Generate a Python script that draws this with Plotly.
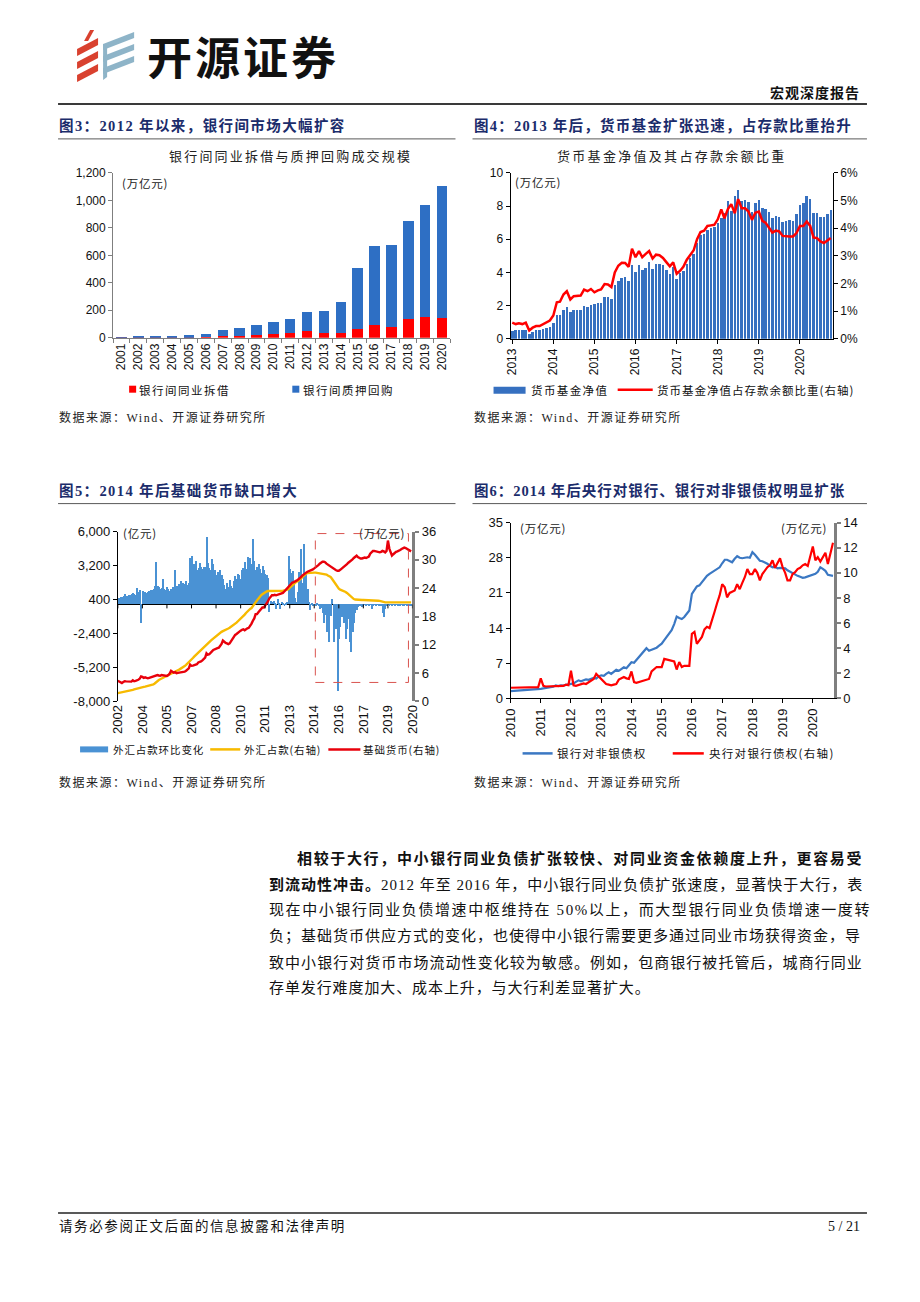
import plotly.graph_objects as go
import pandas as pd

# ---------------- page geometry helpers (page px -> paper) ----------------
W, H = 888, 1270
SX, CX, SY, CY = 0.982, 16.0, 0.989, 14.0
def X(p): return ((p - CX) / SX) / W
def Y(p): return 1 - ((p - CY) / SY) / H

CJK = "Noto Sans CJK SC"
NUM = "Liberation Sans, Arial, sans-serif"
MIX = "Liberation Serif, Noto Sans CJK SC"
NAVY = "#1B2C6B"
RED = "#FF0000"
BLUE3 = "#2E6FC4"
BLUE4 = "#3670C0"
BLUE5 = "#4A92D4"
YELLOW = "#F7BA00"
BLUE6 = "#3B78C3"

# ---------------- data ----------------
# Fig 3: interbank lending & pledged repo turnover (万亿元)
c3_years = [str(y) for y in range(2001, 2021)]
c3_lending = [0.8, 1.2, 2.4, 1.5, 1.3, 2.2, 10.7, 15.0, 19.4, 27.9, 33.4, 46.7, 35.5, 37.7, 64.2, 95.9, 79.0, 139.3, 151.6, 147.1]
c3_repo = [4, 10, 12, 10, 17, 27, 46, 59, 72, 88, 100, 143, 158, 220, 440, 572, 593, 712, 818, 958]

# Fig 4: money market fund NAV (万亿元) and share of deposits (%)
c4_months = pd.date_range("2013-01-01", periods=94, freq="MS")
c4_fund = [
    0.48, 0.52, 0.52, 0.54, 0.54, 0.30, 0.42, 0.50, 0.50, 0.56, 0.62, 0.72,
    0.96, 1.42, 1.44, 1.72, 1.90, 1.60, 1.74, 1.74, 1.76, 2.00, 1.94, 2.02,
    2.08, 2.16, 2.16, 2.50, 2.52, 2.40, 3.22, 3.46, 3.64, 3.72, 3.46, 4.42,
    4.04, 4.44, 4.14, 4.26, 4.60, 4.20, 4.52, 4.52, 4.42, 4.16, 3.92, 4.30,
    3.60, 3.95, 4.10, 4.50, 4.85, 5.10, 5.80, 6.25, 6.30, 6.55, 6.70, 6.75,
    6.95, 7.25, 7.60, 8.30, 7.70, 8.62, 8.96, 8.30, 8.36, 8.26, 7.66, 8.16,
    8.36, 7.86, 7.80, 7.66, 7.26, 7.40, 7.32, 7.06, 7.10, 7.16, 7.12, 7.50,
    8.06, 8.20, 8.62, 8.44, 7.56, 7.60, 7.36, 7.32, 7.50, 7.76]
c4_ratio = [
    0.58, 0.53, 0.56, 0.53, 0.58, 0.30, 0.40, 0.46, 0.46, 0.52, 0.58, 0.66,
    0.84, 1.32, 1.34, 1.60, 1.72, 1.42, 1.54, 1.56, 1.56, 1.78, 1.72, 1.80,
    1.68, 1.75, 1.78, 1.98, 1.96, 1.87, 2.40, 2.64, 2.75, 2.74, 2.60, 3.26,
    2.95, 3.17, 2.95, 3.07, 3.17, 2.90, 3.04, 3.02, 2.92, 2.77, 2.62, 2.76,
    2.35, 2.46, 2.60, 2.86, 3.04, 3.20, 3.60, 3.86, 3.91, 4.08, 4.10, 4.12,
    4.32, 4.68, 4.36, 4.69, 4.87, 4.54, 5.05, 4.72, 4.72, 4.60, 4.30, 4.56,
    4.60, 4.26, 4.20, 4.00, 3.84, 3.91, 3.88, 3.72, 3.70, 3.70, 3.70, 3.82,
    4.08, 4.08, 4.24, 4.08, 3.66, 3.64, 3.52, 3.46, 3.55, 3.64]

# Fig 5: FX funds m/m change (亿元), FX funds & base money (万亿元)
c5_months = pd.date_range("2002-07-01", periods=216, freq="MS")
c5_fx_change = [
    450, 520, 600, 640, 700, 820,
    650, 720, 800, 760, 850, 900, 820, 780, 1350, 1000, 1200, -1550,
    1100, 950, 1050, 900, 1000, 1100, 1150, 1200, 1300, 1550, 3470, 1500,
    1400, 1250, 1350, 2100, 1300, 1200, 1450, 1300, 1100, 1250, 1400, 1350,
    2870, 1500, 1400, 1650, 1950, 1550, 1800, 1700, 1900, 1600, 1800, 3850,
    3950, 2900, 3300, 3600, 2800, 3000, 3400, 3050, 2900, 3100, 3050, 5590,
    3400, 3000, 2850, 3750, 3300, 2800, 2400, 2650, 2000, 2800, 2400, 2100,
    1600, 1300, 1800, 1400, 2000, 1500, 1350, 1900, 2300, 2100, 2500, 2400,
    2050, 2800, 3000, 3500, 2900, 3900, 3200, 3800, 3300, 5400, 3600, 2800,
    3100, 3300, 2900, 2600, 3200, 2800, 2500, 2400, 2200, -640, 300, 200,
    300, 150, -390, 430, 100, -400, 200, 150, -80, 120, 200, 4000,
    2900, 2600, 2750, 1800, 500, 200, 1000, 2700, 4550, 1800, 4960, 1500,
    2600, 1250, 200, -450, 100, -100, 50, -150, 100, -100, -400, -300,
    -670, -1500, -900, -2300, -1200, -3100, -940, 430, -3140, -1700, -2000, -7120,
    -2860, -1900, -1080, -600, -1500, -2860, -2040, -1200, -3140, -3960, -2300, -1500,
    -700, -500, -250, -150, -100, -200, -120, 50, -80, 30, -50, 40,
    -400, -60, 20, -30, 60, -40, 30, -100, -670, -1080, -400, -150,
    50, -30, 40, -20, 30, -50, 20, -40, 60, -30, 20, -20,
    -100, 40, -150, -80, 30, -50]
c5_fx_stock = [
    1.77, 1.82, 1.87, 1.93, 1.98, 2.05,
    2.10, 2.15, 2.20, 2.27, 2.35, 2.45, 2.55, 2.65, 2.72, 2.80, 2.90, 2.97,
    3.05, 3.10, 3.15, 3.20, 3.25, 3.32, 3.40, 3.46, 3.60, 3.80, 4.10, 4.40,
    4.55, 4.70, 4.85, 4.95, 5.05, 5.20, 5.35, 5.50, 5.65, 5.85, 6.00, 6.15,
    6.30, 6.45, 6.60, 6.75, 6.90, 7.10, 7.30, 7.50, 7.75, 8.00, 8.30, 8.60,
    8.97, 9.20, 9.50, 9.80, 10.10, 10.40, 10.70, 10.90, 11.20, 11.50, 11.80, 12.10,
    12.40, 12.60, 12.85, 13.10, 13.35, 13.60, 13.85, 14.10, 14.35, 14.60, 14.75, 14.90,
    15.00, 15.15, 15.30, 15.45, 15.60, 15.80, 16.00, 16.20, 16.45, 16.70, 17.00, 17.25,
    17.50, 17.80, 18.10, 18.40, 18.75, 19.10, 19.40, 19.60, 19.80, 20.30, 20.70, 21.00,
    21.40, 21.80, 22.20, 22.50, 22.70, 22.95, 23.15, 23.30, 23.40, 23.40, 23.35, 23.30,
    23.35, 23.40, 23.40, 23.45, 23.40, 23.40, 23.40, 23.45, 23.50, 23.60, 23.70, 23.80,
    24.10, 24.40, 24.70, 24.90, 25.20, 25.40, 25.50, 25.70, 26.00, 26.30, 26.60, 26.90,
    27.10, 27.20, 27.25, 27.30, 27.30, 27.30, 27.30, 27.30, 27.25, 27.25, 27.20, 27.20,
    27.20, 27.10, 27.00, 26.90, 26.70, 26.60, 26.40, 26.00, 25.60, 25.20, 24.80, 24.20,
    23.90, 23.70, 23.60, 23.50, 23.40, 23.20, 23.00, 22.70, 22.50, 22.20, 21.90, 21.70,
    21.60, 21.55, 21.50, 21.50, 21.50, 21.50, 21.50, 21.50, 21.50, 21.50, 21.50, 21.50,
    21.50, 21.50, 21.50, 21.45, 21.40, 21.35, 21.30, 21.20, 21.10, 21.00, 21.00, 21.00,
    21.00, 21.00, 21.00, 21.00, 21.00, 21.00, 21.00, 21.00, 21.00, 21.00, 21.00, 21.00,
    21.00, 21.00, 21.00, 21.00, 21.00, 21.00]
c5_base_money = [
    4.40, 4.20, 4.00, 3.90, 4.10, 4.30,
    4.25, 4.20, 4.20, 4.15, 4.20, 4.50, 4.30, 4.35, 4.40, 4.60, 4.80, 5.30,
    5.20, 5.00, 5.10, 4.95, 4.90, 5.00, 5.10, 5.20, 5.15, 5.35, 5.40, 5.60,
    5.50, 5.45, 5.60, 5.55, 5.50, 5.45, 5.40, 5.60, 5.90, 6.50, 6.30, 6.10,
    6.20, 6.00, 6.05, 6.10, 6.15, 6.10, 6.20, 6.30, 6.50, 6.70, 7.00, 7.80,
    7.55, 7.60, 7.70, 7.80, 7.90, 8.25, 8.30, 8.50, 8.70, 8.97, 9.30, 10.20,
    9.90, 10.00, 10.20, 10.60, 10.90, 11.10, 11.20, 11.30, 11.40, 11.80, 12.20, 12.90,
    12.60, 12.40, 12.30, 12.15, 12.30, 12.80, 13.30, 13.90, 14.10, 14.30, 14.60, 14.80,
    15.00, 15.20, 15.30, 15.10, 15.40, 15.50, 15.60, 16.00, 16.50, 17.10, 17.60, 18.50,
    18.50, 18.90, 19.30, 19.60, 19.90, 19.90, 20.30, 20.60, 21.20, 21.80, 22.20, 22.50,
    22.50, 22.60, 22.50, 22.60, 22.70, 22.70, 22.80, 23.00, 23.30, 23.60, 24.10, 24.30,
    24.60, 25.00, 25.20, 25.30, 25.40, 25.60, 25.80, 26.00, 26.30, 26.60, 26.90, 27.10,
    27.30, 27.50, 27.60, 27.70, 27.90, 28.00, 28.20, 28.40, 28.60, 28.90, 29.20, 29.50,
    29.60, 29.60, 29.50, 29.20, 29.00, 28.70, 28.50, 28.40, 28.20, 28.00, 27.80, 27.70,
    27.70, 27.90, 28.10, 28.40, 28.70, 28.90, 29.10, 29.40, 29.60, 29.80, 30.10, 30.40,
    30.70, 30.90, 30.60, 30.40, 30.30, 30.30, 30.40, 30.50, 30.40, 30.50, 30.70, 31.30,
    31.60, 31.90, 31.90, 31.80, 31.70, 31.70, 31.60, 31.70, 31.90, 31.80, 31.60, 31.90,
    34.10, 32.40, 31.50, 30.90, 31.20, 31.50, 31.70, 31.80, 31.90, 32.10, 32.30, 32.50,
    32.60, 32.50, 32.30, 32.10, 31.90, 31.80]
c5_tick_dates = pd.date_range("2002-07-01", periods=13, freq="18MS")
c5_tick_labels = [str(d.year) for d in c5_tick_dates]
c5_left_ticks = [-8000, -5200, -2400, 400, 3200, 6000]
c5_left_labels = ["-8,000", "-5,200", "-2,400", "400", "3,200", "6,000"]

# Fig 6: bank claims on non-banks (万亿元), PBoC claims on banks (万亿元, right)
c6_months = pd.date_range("2010-01-01", periods=129, freq="MS")
c6_bank_nonbank = [
    1.45, 1.48, 1.50, 1.52, 1.55, 1.60, 1.65, 1.70, 1.72, 1.78, 1.85, 1.90,
    1.92, 2.00, 2.05, 2.10, 2.20, 2.35, 2.60, 2.45, 2.60, 2.55, 2.70, 2.75,
    2.90, 3.00, 3.30, 3.60, 3.40, 3.55, 3.80, 3.70, 3.95, 4.10, 3.95, 4.40,
    4.60, 4.50, 4.90, 5.20, 4.90, 5.30, 5.70, 5.50, 5.90, 6.20, 6.00, 6.50,
    7.20, 7.10, 7.60, 8.20, 8.80, 9.30, 10.00, 9.50, 9.70, 9.90, 10.10, 10.50,
    10.90, 11.60, 12.20, 12.80, 13.60, 14.80, 16.30, 16.00, 15.80, 16.20, 16.80, 17.50,
    20.80, 21.50, 22.30, 22.50, 23.20, 23.90, 24.40, 24.80, 25.10, 25.50, 25.80, 26.10,
    26.90, 27.60, 27.60, 27.30, 27.10, 27.80, 28.30, 28.00, 27.90, 28.00, 28.10, 28.00,
    29.10, 28.60, 28.00, 27.40, 27.30, 27.10, 26.80, 26.40, 26.10, 26.20, 25.90, 26.00,
    26.00, 25.90, 25.50, 25.20, 24.90, 24.60, 24.40, 24.20, 24.00, 24.10, 24.30, 24.40,
    24.60, 24.80, 25.20, 26.10, 25.80, 25.40, 24.60, 24.50, 24.40]
c6_pboc_bank = [
    0.85, 0.85, 0.86, 0.86, 0.87, 0.87, 0.88, 0.88, 0.89, 0.89, 0.90, 0.90,
    1.60, 1.00, 0.95, 0.95, 0.95, 0.97, 0.98, 1.00, 0.98, 1.00, 1.10, 1.05,
    2.20, 1.05, 1.00, 1.05, 1.10, 1.20, 1.15, 1.30, 1.40, 1.55, 1.95, 1.75,
    1.55, 1.30, 1.15, 1.10, 1.05, 1.10, 1.15, 1.50, 1.60, 1.70, 1.60, 1.55,
    2.15, 1.30, 1.25, 1.30, 1.35, 1.45, 1.50, 1.55, 2.15, 2.30, 2.50, 2.50,
    2.50, 3.15, 3.10, 3.05, 3.02, 2.95, 2.30, 2.90, 2.50, 2.60, 2.60, 2.60,
    5.15, 5.30, 4.35, 4.60, 4.90, 5.50, 5.70, 5.60, 6.20, 6.90, 7.60, 8.20,
    9.10, 8.85, 8.05, 8.40, 8.50, 8.60, 9.10, 8.70, 9.20, 9.65, 10.30, 9.90,
    9.90, 10.30, 10.00, 9.40, 9.90, 10.20, 10.45, 10.60, 11.00, 10.40, 10.80, 11.15,
    10.45, 10.00, 9.40, 9.40, 9.90, 10.05, 10.30, 10.40, 10.60, 10.70, 10.55, 11.25,
    12.10, 11.00, 11.25, 10.90, 11.30, 11.60, 10.70, 11.50, 12.40]

assert len(c3_lending) == len(c3_repo) == len(c3_years)
assert len(c4_fund) == len(c4_ratio) == len(c4_months)
assert len(c5_fx_change) == len(c5_fx_stock) == len(c5_base_money) == len(c5_months)
assert len(c6_bank_nonbank) == len(c6_pboc_bank) == len(c6_months)

MONTH_MS = 30.44 * 86400000

# ---------------- traces ----------------
fig = go.Figure()
fig.add_trace(go.Bar(x=c3_years, y=c3_lending, name="银行间同业拆借", width=0.62,
                     marker=dict(color=RED, line_width=0), xaxis="x", yaxis="y", showlegend=False))
fig.add_trace(go.Bar(x=c3_years, y=c3_repo, name="银行间质押回购", width=0.62,
                     marker=dict(color=BLUE3, line_width=0), xaxis="x", yaxis="y", showlegend=False))

fig.add_trace(go.Bar(x=c4_months, y=c4_fund, name="货币基金净值", width=0.74 * MONTH_MS,
                     marker=dict(color=BLUE4, line_width=0), xaxis="x2", yaxis="y2", showlegend=False))
fig.add_trace(go.Scatter(x=c4_months, y=c4_ratio, name="货币基金净值占存款余额比重(右轴)", mode="lines",
                         line=dict(color=RED, width=2.5), xaxis="x2", yaxis="y3", showlegend=False))

fig.add_trace(go.Bar(x=c5_months, y=c5_fx_change, name="外汇占款环比变化", width=0.7 * MONTH_MS,
                     marker=dict(color=BLUE5, line_width=0), xaxis="x3", yaxis="y4", showlegend=False))
fig.add_trace(go.Scatter(x=c5_months, y=c5_fx_stock, name="外汇占款(右轴)", mode="lines",
                         line=dict(color=YELLOW, width=2.4), xaxis="x3", yaxis="y5", showlegend=False))
fig.add_trace(go.Scatter(x=c5_months, y=c5_base_money, name="基础货币(右轴)", mode="lines",
                         line=dict(color="#E8000B", width=2.4), xaxis="x3", yaxis="y5", showlegend=False))

fig.add_trace(go.Scatter(x=c6_months, y=c6_bank_nonbank, name="银行对非银债权", mode="lines",
                         line=dict(color=BLUE6, width=2.2), xaxis="x4", yaxis="y6", showlegend=False))
fig.add_trace(go.Scatter(x=c6_months, y=c6_pboc_bank, name="央行对银行债权(右轴)", mode="lines",
                         line=dict(color=RED, width=2.2), xaxis="x4", yaxis="y7", showlegend=False))

# ---------------- annotations & shapes ----------------
anns, shapes = [], []

def ann(x, y, text, size=12, color="#111", xanchor="left", family=CJK, ls=0, yanchor="middle"):
    if ls:
        text = f'<span style="letter-spacing:{ls}px">{text}</span>'
    anns.append(dict(x=X(x), y=Y(y), xref="paper", yref="paper", text=text, showarrow=False,
                     xanchor=xanchor, yanchor=yanchor, borderpad=0,
                     font=dict(size=size, color=color, family=family)))

def hline(x0, x1, y, color, width, dash="solid"):
    shapes.append(dict(type="line", xref="paper", yref="paper", x0=X(x0), x1=X(x1),
                       y0=Y(y), y1=Y(y), line=dict(color=color, width=width, dash=dash)))

def rect(x0, y0, x1, y1, color):
    shapes.append(dict(type="rect", xref="paper", yref="paper", x0=X(x0), x1=X(x1),
                       y0=Y(y1), y1=Y(y0), fillcolor=color, line=dict(width=0)))

def poly(points, color):
    d = "M " + " L ".join(f"{X(a):.5f},{Y(b):.5f}" for a, b in points) + " Z"
    shapes.append(dict(type="path", xref="paper", yref="paper", path=d,
                       fillcolor=color, line=dict(width=0)))

# logo
for k in range(3):
    poly([(77, 48 + 13 * k), (98, 37 + 13 * k), (98, 44 + 13 * k), (77, 55 + 13 * k)], "#D9412F")
poly([(84, 40), (90, 29), (94, 29), (88, 40)], "#D9412F")
for k in range(3):
    poly([(103, 43 + 12 * k), (134, 31 + 12 * k), (134, 37 + 12 * k), (103, 49 + 12 * k)], "#8EB4C8")
poly([(103, 43), (107, 43), (107, 76), (103, 79)], "#8EB4C8")
ann(146, 55, "<b>开源证券</b>", 45, "#111", ls=3)

# header
ann(860, 92, "<b>宏观深度报告</b>", 14, "#111", "right", MIX, ls=1)
hline(58, 866, 103, "#3a3a3a", 2)

# figure titles
ann(58, 125, "<b>图3：2012 年以来，银行间市场大幅扩容</b>", 14.5, NAVY, family=MIX, ls=1.4)
ann(472, 125, "<b>图4：2013 年后，货币基金扩张迅速，占存款比重抬升</b>", 14.5, NAVY, family=MIX, ls=1.25)
ann(58, 490, "<b>图5：2014 年后基础货币缺口增大</b>", 14.5, NAVY, family=MIX, ls=1.4)
ann(472, 490, "<b>图6：2014 年后央行对银行、银行对非银债权明显扩张</b>", 14.5, NAVY, family=MIX, ls=1.0)
for y in (138, 503):
    hline(58, 455, y, "#595959", 1)
    hline(472, 866, y, "#595959", 1)

# chart sub-titles
ann(290, 155, "银行间同业拆借与质押回购成交规模", 13, "#222", "center", ls=2.2)
ann(671, 155, "货币基金净值及其占存款余额比重", 13, "#222", "center", ls=2.3)

# units
ann(121, 182, "(万亿元)", 11.5, "#222", ls=0.8)
ann(513, 181, "(万亿元)", 11.5, "#222", ls=0.8)
ann(122, 532, "(亿元)", 11.5, "#222", ls=0.8)
ann(406, 532, "(万亿元)", 11.5, "#222", "right", ls=0.8)
ann(518, 527, "(万亿元)", 11.5, "#222", ls=0.8)
ann(827, 527, "(万亿元)", 11.5, "#222", "right", ls=0.8)

# legends (drawn)
rect(129, 385, 136, 392, RED)
ann(138, 389, "银行间同业拆借", 11.5, "#111", ls=1.5)
rect(292, 385, 299, 392, BLUE3)
ann(302, 389, "银行间质押回购", 11.5, "#111", ls=1.5)

rect(493, 386, 525, 393, BLUE4)
ann(529, 389, "货币基金净值", 11.5, "#111", ls=1.4)
hline(617, 652, 389, RED, 2.5)
ann(655, 389, "货币基金净值占存款余额比重(右轴)", 11.5, "#111", ls=1.0)

rect(80, 746, 108, 752, BLUE5)
ann(112, 749, "外汇占款环比变化", 10.5, "#111", ls=0.9)
hline(210, 240, 749, YELLOW, 2.5)
ann(243, 749, "外汇占款(右轴)", 10.5, "#111", ls=0.9)
hline(328, 360, 749, "#E8000B", 2.5)
ann(362, 749, "基础货币(右轴)", 10.5, "#111", ls=0.9)

hline(522, 552, 753, BLUE6, 2.5)
ann(555, 753, "银行对非银债权", 11.5, "#111", ls=1.3)
hline(672, 703, 753, RED, 2.5)
ann(707, 753, "央行对银行债权(右轴)", 11.5, "#111", ls=1.3)

# dashed highlight box in fig 5
shapes.append(dict(type="rect", xref="paper", yref="paper", x0=X(315), x1=X(408),
                   y0=Y(682), y1=Y(533), line=dict(color="#D9534F", width=1, dash="dash"),
                   fillcolor="rgba(0,0,0,0)"))

# tick marks on the zero line of fig 5
for d in c5_tick_dates:
    shapes.append(dict(type="line", xref="x3", yref="y4", x0=d, x1=d, y0=0, y1=-330,
                       line=dict(color="#000", width=1)))

# sources
for y in (417, 782):
    ann(58, y, "数据来源：Wind、开源证券研究所", 12, "#222", family=MIX, ls=1.5)
    ann(472, y, "数据来源：Wind、开源证券研究所", 12, "#222", family=MIX, ls=1.5)

# body text
body = [
    (296, 858, "<b>相较于大行，中小银行同业负债扩张较快、对同业资金依赖度上升，更容易受</b>", 1.65),
    (268, 884, "<b>到流动性冲击。</b>2012 年至 2016 年，中小银行同业负债扩张速度，显著快于大行，表", 1.0),
    (268, 910, "现在中小银行同业负债增速中枢维持在 50%以上，而大型银行同业负债增速一度转", 1.6),
    (268, 936, "负；基础货币供应方式的变化，也使得中小银行需要更多通过同业市场获得资金，导", 1.0),
    (268, 962, "致中小银行对货币市场流动性变化较为敏感。例如，包商银行被托管后，城商行同业", 1.05),
    (268, 988, "存单发行难度加大、成本上升，与大行利差显著扩大。", 0.9),
]
for x, y, t, ls in body:
    ann(x, y, t, 15, "#111", family=MIX, ls=ls)

# footer
hline(58, 866, 1213, "#222", 1.5)
ann(58, 1226, "请务必参阅正文后面的信息披露和法律声明", 13.5, "#111", family=MIX, ls=1.6)
ann(860, 1226, "5 / 21", 14, "#111", "right", family=MIX)

# ---------------- axes ----------------
tickfont12 = dict(size=12, color="#111", family=NUM)
tickfont13 = dict(size=13, color="#111", family=NUM)

def base_axis(**kw):
    d = dict(showgrid=False, zeroline=False, ticks="outside", ticklen=4, fixedrange=True)
    d.update(kw)
    return d

layout = dict(
    width=W, height=H, autosize=False,
    margin=dict(l=0, r=0, t=0, b=0),
    paper_bgcolor="white", plot_bgcolor="white",
    barmode="stack", showlegend=False,
    annotations=anns, shapes=shapes,
    # fig 3
    xaxis=base_axis(domain=[X(113), X(450)], anchor="y", type="category", tickangle=-90,
                    showline=True, linecolor="#7f7f7f", tickcolor="#7f7f7f", tickson="boundaries",
                    tickfont=tickfont12),
    yaxis=base_axis(domain=[Y(337), Y(172)], anchor="x", range=[0, 1200], dtick=200, tickformat=",",
                    showline=True, linecolor="#7f7f7f", tickcolor="#7f7f7f", tickfont=tickfont12),
    # fig 4
    xaxis2=base_axis(domain=[X(510), X(832)], anchor="y2", type="date",
                     range=["2012-12-17", "2020-10-20"], tick0="2013-01-01", dtick="M12",
                     tickformat="%Y", tickangle=-90, showline=True, linecolor="#000",
                     tickcolor="#000", tickfont=tickfont12),
    yaxis2=base_axis(domain=[Y(338), Y(172)], anchor="x2", range=[0, 10], dtick=2,
                     showline=True, linecolor="#000", tickcolor="#000", tickfont=tickfont12),
    yaxis3=base_axis(overlaying="y2", side="right", anchor="x2", range=[0, 6], dtick=1,
                     ticksuffix="%", showline=True, linecolor="#000", tickcolor="#000",
                     tickfont=tickfont12),
    # fig 5
    xaxis3=base_axis(domain=[X(117.7), X(412)], anchor="y4", type="date",
                     range=["2002-07-01", "2020-07-01"], tickvals=list(c5_tick_dates),
                     ticktext=c5_tick_labels, tickangle=-90, showline=False, ticks="",
                     tickfont=tickfont13),
    yaxis4=base_axis(domain=[Y(701), Y(531)], anchor="x3", range=[-8000, 6000],
                     tickvals=c5_left_ticks, ticktext=c5_left_labels, showline=True,
                     linecolor="#000", tickcolor="#000", zeroline=True, zerolinecolor="#000",
                     zerolinewidth=1, tickfont=tickfont13),
    yaxis5=base_axis(overlaying="y4", side="right", anchor="x3", range=[0, 36], dtick=6,
                     showline=True, linecolor="#7f7f7f", linewidth=2.5, tickcolor="#7f7f7f",
                     tickwidth=1.5, tickfont=tickfont13),
    # fig 6
    xaxis4=base_axis(domain=[X(510), X(833)], anchor="y6", type="date",
                     range=["2010-01-01", "2020-09-12"], tick0="2010-01-01", dtick="M12",
                     tickformat="%Y", tickangle=-90, showline=True, linecolor="#000",
                     tickcolor="#000", tickfont=tickfont13),
    yaxis6=base_axis(domain=[Y(698), Y(522)], anchor="x4", range=[0, 35], dtick=7,
                     showline=True, linecolor="#000", tickcolor="#000", tickfont=tickfont13),
    yaxis7=base_axis(overlaying="y6", side="right", anchor="x4", range=[0, 14], dtick=2,
                     showline=True, linecolor="#7f7f7f", linewidth=2.5, tickcolor="#7f7f7f",
                     tickwidth=1.5, tickfont=tickfont13),
)
fig.update_layout(**layout)
fig.write_html("out.html")
